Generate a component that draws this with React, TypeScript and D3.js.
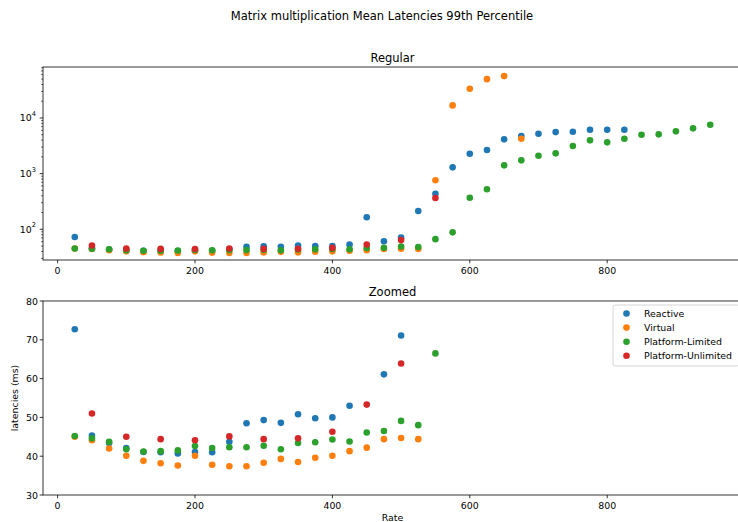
import React from "react";
import * as d3 from "d3";

// Arrival rates (requests/s) and 99th percentile latencies (ms) per executor
const reactiveRates = [25, 50, 75, 100, 125, 150, 175, 200, 225, 250, 275, 300, 325, 350, 375, 400, 425, 450, 475, 500, 525, 550, 575, 600, 625, 650, 675, 700, 725, 750, 775, 800, 825];
const reactive = [72.7, 45.3, 43.4, 42.1, 41.1, 41.0, 40.7, 41.1, 41.0, 43.7, 48.5, 49.3, 48.6, 50.8, 49.8, 50.0, 53.0, 164, 61.1, 71.1, 213, 435, 1297, 2275, 2655, 4130, 4735, 5200, 5580, 5650, 6140, 6140, 6140];

const virtualRates = [25, 50, 75, 100, 125, 150, 175, 200, 225, 250, 275, 300, 325, 350, 375, 400, 425, 450, 475, 500, 525, 550, 575, 600, 625, 650, 675];
const virtual = [45.0, 44.1, 42.0, 40.1, 38.8, 38.2, 37.6, 40.1, 37.8, 37.4, 37.4, 38.3, 39.3, 38.5, 39.6, 40.1, 41.3, 42.2, 44.4, 44.7, 44.4, 759, 16830, 33430, 49900, 56500, 4235];

const limitedRates = [25, 50, 75, 100, 125, 150, 175, 200, 225, 250, 275, 300, 325, 350, 375, 400, 425, 450, 475, 500, 525, 550, 575, 600, 625, 650, 675, 700, 725, 750, 775, 800, 825, 850, 875, 900, 925, 950];
const platformLimited = [45.2, 44.6, 43.7, 41.8, 41.2, 41.3, 41.5, 42.6, 42.1, 42.3, 42.3, 42.7, 41.8, 43.4, 43.6, 44.3, 43.8, 46.1, 46.5, 49.1, 48.0, 66.5, 88, 369, 523, 1409, 1733, 2096, 2314, 3130, 3962, 3648, 4235, 4995, 5080, 5745, 6506, 7550];

const unlimitedRates = [50, 100, 150, 200, 250, 300, 350, 400, 450, 500, 550];
const platformUnlimited = [51.0, 45.0, 44.4, 44.1, 45.1, 44.4, 44.6, 46.3, 53.3, 63.9, 365];

const seriesNames = ["Reactive", "Virtual", "Platform-Limited", "Platform-Unlimited"];
const seriesColors = ["#1f77b4", "#ff7f0e", "#2ca02c", "#d62728"];

const xTicks = [0, 200, 400, 600, 800];
const zoomTicks = [30, 40, 50, 60, 70, 80];

const FONT = "DejaVu Sans, sans-serif";
const TICK_FS = 9.4;
const TITLE_FS = 11.5;

const series = [
  { rates: reactiveRates, values: reactive },
  { rates: virtualRates, values: virtual },
  { rates: limitedRates, values: platformLimited },
  { rates: unlimitedRates, values: platformUnlimited },
];

const W = 738;
const H = 522;
const left = 43;
const right = 742;

const x = d3.scaleLinear().domain([-21.25, 996.25]).range([left, right]);

const topPanel = { top: 67, bottom: 260 };
const botPanel = { top: 301, bottom: 495 };

const yLog = d3
  .scaleLog()
  .domain([Math.pow(10, 1.448), Math.pow(10, 4.916)])
  .range([topPanel.bottom, topPanel.top]);

const yLin = d3.scaleLinear().domain([30, 80]).range([botPanel.bottom, botPanel.top]);

function Points({ y, clipId }: { y: (v: number) => number; clipId: string }) {
  return (
    <g clipPath={`url(#${clipId})`}>
      {series.map((s, si) =>
        s.values.map((v, i) => (
          <circle key={`${si}-${i}`} cx={x(s.rates[i])} cy={y(v)} r={3.3} fill={seriesColors[si]} />
        ))
      )}
    </g>
  );
}

function XAxis({ y0 }: { y0: number }) {
  return (
    <g>
      {xTicks.map((t) => (
        <g key={t}>
          <line x1={x(t)} x2={x(t)} y1={y0} y2={y0 + 3.3} stroke="#000" strokeWidth={0.8} />
          <text x={x(t)} y={y0 + 6.5} textAnchor="middle" dominantBaseline="hanging" fontSize={TICK_FS} fontFamily={FONT} fill="#000">
            {t}
          </text>
        </g>
      ))}
    </g>
  );
}

function Frame({ top, bottom }: { top: number; bottom: number }) {
  return (
    <rect x={left} y={top} width={right - left} height={bottom - top} fill="none" stroke="#000" strokeWidth={0.8} />
  );
}

export default function App() {
  const [lo, hi] = yLog.domain();
  const logTicks: { v: number; major: boolean }[] = [];
  for (let e = Math.floor(Math.log10(lo)); e <= Math.ceil(Math.log10(hi)); e++) {
    for (let m = 1; m <= 9; m++) {
      const v = m * Math.pow(10, e);
      if (v >= lo && v <= hi) logTicks.push({ v, major: m === 1 });
    }
  }

  return (
    <svg width={W} height={H} style={{ position: "absolute", left: 0, top: 0, background: "#fff" }}>
      <defs>
        <clipPath id="clipTop">
          <rect x={left} y={topPanel.top} width={right - left} height={topPanel.bottom - topPanel.top} />
        </clipPath>
        <clipPath id="clipBot">
          <rect x={left} y={botPanel.top} width={right - left} height={botPanel.bottom - botPanel.top} />
        </clipPath>
      </defs>
      <rect width={W} height={H} fill="#fff" />

      <text x={382} y={20} textAnchor="middle" fontSize={TITLE_FS} fontFamily={FONT} fill="#000">
        Matrix multiplication Mean Latencies 99th Percentile
      </text>

      {/* Log-scale panel */}
      <text x={(left + right) / 2} y={topPanel.top - 5} textAnchor="middle" fontSize={TITLE_FS} fontFamily={FONT} fill="#000">
        Regular
      </text>
      <Points y={yLog} clipId="clipTop" />
      <Frame top={topPanel.top} bottom={topPanel.bottom} />
      {logTicks.map((t) => (
        <g key={t.v}>
          <line x1={left - (t.major ? 3.3 : 1.9)} x2={left} y1={yLog(t.v)} y2={yLog(t.v)} stroke="#000" strokeWidth={t.major ? 0.8 : 0.6} />
          {t.major && (
            <text x={left - 7} y={yLog(t.v)} textAnchor="end" dominantBaseline="central" fontSize={TICK_FS} fontFamily={FONT} fill="#000">
              10
              <tspan dy={-4} fontSize={6.6}>
                {Math.round(Math.log10(t.v))}
              </tspan>
            </text>
          )}
        </g>
      ))}
      <XAxis y0={topPanel.bottom} />

      {/* Linear zoomed panel */}
      <text x={(left + right) / 2} y={botPanel.top - 5} textAnchor="middle" fontSize={TITLE_FS} fontFamily={FONT} fill="#000">
        Zoomed
      </text>
      <Points y={yLin} clipId="clipBot" />
      <Frame top={botPanel.top} bottom={botPanel.bottom} />
      {zoomTicks.map((t) => (
        <g key={t}>
          <line x1={left - 3.3} x2={left} y1={yLin(t)} y2={yLin(t)} stroke="#000" strokeWidth={0.8} />
          <text x={left - 5} y={yLin(t)} textAnchor="end" dominantBaseline="central" fontSize={TICK_FS} fontFamily={FONT} fill="#000">
            {t}
          </text>
        </g>
      ))}
      <XAxis y0={botPanel.bottom} />
      <text x={(left + right) / 2} y={521} textAnchor="middle" fontSize={TICK_FS} fontFamily={FONT} fill="#000">
        Rate
      </text>
      <text
        transform={`translate(18, ${(botPanel.top + botPanel.bottom) / 2}) rotate(-90)`}
        textAnchor="middle"
        fontSize={TICK_FS}
        fontFamily={FONT}
        fill="#000"
      >
        latencies (ms)
      </text>

      {/* Legend */}
      <g>
        <rect x={613} y={305} width={126} height={61} rx={2} fill="#fff" fillOpacity={0.8} stroke="#cccccc" strokeWidth={0.8} />
        {seriesNames.map((name, i) => (
          <g key={name}>
            <circle cx={626.5} cy={313.5 + i * 14.1} r={3.3} fill={seriesColors[i]} />
            <text x={644} y={313.5 + i * 14.1} dominantBaseline="central" fontSize={TICK_FS} fontFamily={FONT} fill="#000">
              {name}
            </text>
          </g>
        ))}
      </g>
    </svg>
  );
}
